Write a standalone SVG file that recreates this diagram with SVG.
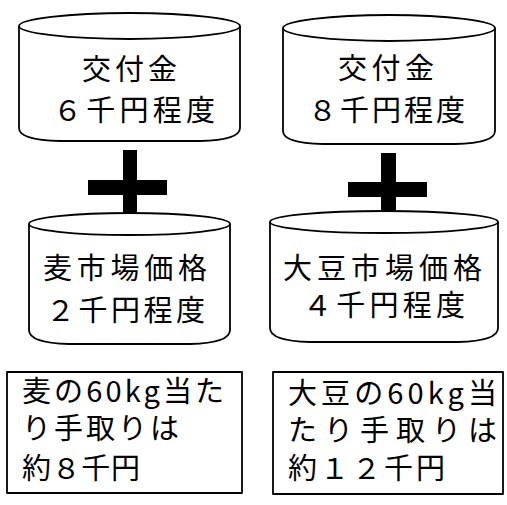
<svg xmlns="http://www.w3.org/2000/svg" width="507" height="505" viewBox="0 0 507 505">
<style>
.shape{fill:#fff;stroke:#000;stroke-width:1.8;stroke-linejoin:round}
.t{font-family:"Noto Sans CJK JP","Noto Sans CJK SC",sans-serif;font-size:29px;fill:#000}
.plus{fill:#000}
</style>
<rect width="507" height="505" fill="#fff"/>
<g id="subsidy-wheat">
<path class="shape" d="M19,26 A110.5,13 0 0 1 240,26 L240,128 Q240,140 200,141 L60,141 Q19,140 19,128 Z"/>
<path class="shape" fill="none" d="M19,26 A110.5,13 0 0 0 240,26"/>
<text class="t" x="82" y="80" textLength="95" lengthAdjust="spacing">交付金</text>
<text class="t" x="53" y="121" textLength="162" lengthAdjust="spacing">６千円程度</text>
</g>
<g id="subsidy-soy">
<path class="shape" d="M283,28 A106,13 0 0 1 495,28 L495,131 Q495,143 455,144 L323,144 Q283,143 283,131 Z"/>
<path class="shape" fill="none" d="M283,28 A106,13 0 0 0 495,28"/>
<text class="t" x="338" y="79" textLength="96" lengthAdjust="spacing">交付金</text>
<text class="t" x="308" y="121" textLength="157" lengthAdjust="spacing">８千円程度</text>
</g>
<g id="plus-signs">
<rect class="plus" x="123" y="150" width="14" height="63"/>
<rect class="plus" x="88" y="180" width="79" height="15"/>
<rect class="plus" x="381" y="153" width="15" height="60"/>
<rect class="plus" x="348" y="182" width="79" height="15"/>
</g>
<g id="market-wheat">
<path class="shape" d="M29,224 A100.5,11 0 0 1 230,224 L230,330 Q230,343 190,344 L69,344 Q29,343 29,330 Z"/>
<path class="shape" fill="none" d="M29,224 A100.5,11 0 0 0 230,224"/>
<text class="t" x="43" y="279" textLength="164" lengthAdjust="spacing">麦市場価格</text>
<text class="t" x="46" y="321" textLength="159" lengthAdjust="spacing">２千円程度</text>
</g>
<g id="market-soy">
<path class="shape" d="M270,222 A114,11 0 0 1 498,222 L498,328 Q498,341 458,342 L310,342 Q270,341 270,328 Z"/>
<path class="shape" fill="none" d="M270,222 A114,11 0 0 0 498,222"/>
<text class="t" x="283" y="279" textLength="199" lengthAdjust="spacing">大豆市場価格</text>
<text class="t" x="303" y="316" textLength="162" lengthAdjust="spacing">４千円程度</text>
</g>
<g id="result-wheat">
<rect class="shape" x="7" y="372" width="235" height="121"/>
<text class="t" x="22" y="402" textLength="202" lengthAdjust="spacing">麦の60kg当た</text>
<text class="t" x="22" y="439" textLength="157" lengthAdjust="spacing">り手取りは</text>
<text class="t" x="22" y="479" textLength="118" lengthAdjust="spacing">約８千円</text>
</g>
<g id="result-soy">
<rect class="shape" x="273" y="372" width="230" height="122"/>
<text class="t" x="288" y="404" textLength="209" lengthAdjust="spacing">大豆の60kg当</text>
<text class="t" x="288" y="441" textLength="209" lengthAdjust="spacing">たり手取りは</text>
<text class="t" x="288" y="479" textLength="157" lengthAdjust="spacing">約１２千円</text>
</g>
</svg>
